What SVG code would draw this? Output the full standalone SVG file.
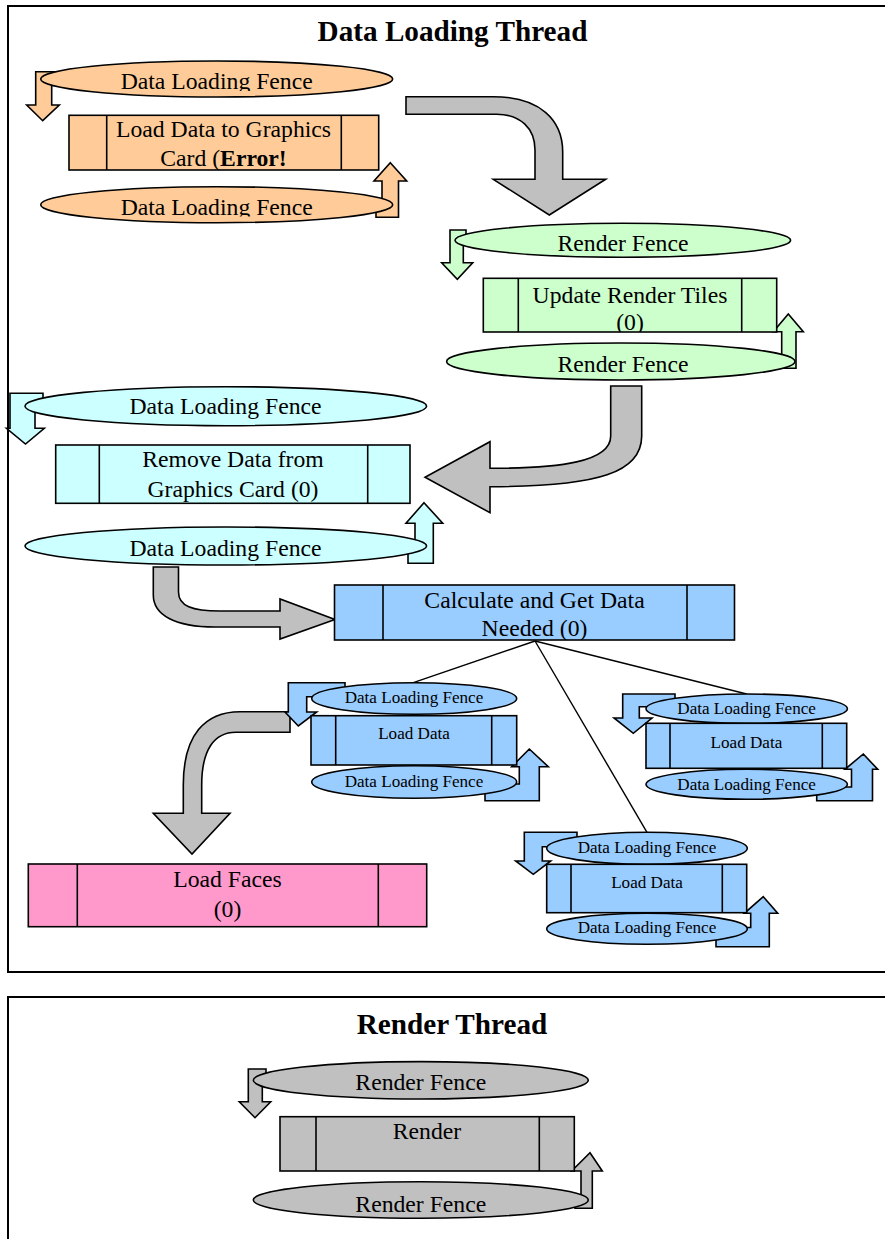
<svg xmlns="http://www.w3.org/2000/svg" width="885" height="1239" viewBox="0 0 885 1239">
  <defs>
    <style>
      .s { stroke: #000; stroke-width: 1.6; stroke-linejoin: miter; }
      .orange { fill: #FFCC99; }
      .green { fill: #CCFFCC; }
      .cyan { fill: #CCFFFF; }
      .blue { fill: #99CCFF; }
      .pink { fill: #FF99CC; }
      .grey { fill: #C0C0C0; }
      .frame { fill: none; stroke: #000; stroke-width: 2; }
      .link { fill: none; stroke: #000; stroke-width: 1.4; }
      .sep { fill: none; stroke: #000; stroke-width: 1.6; }
      text { font-family: "Liberation Serif", "Times New Roman", serif; fill: #000; text-anchor: middle; }
      .t { font-size: 23.7px; }
      .sm { font-size: 17.1px; }
      .h { font-size: 29.2px; font-weight: bold; }
    </style>
    <clipPath id="clipFenceTop"><rect x="30" y="55" width="380" height="36"/></clipPath>
    <clipPath id="clipFenceBottom"><rect x="30" y="180" width="380" height="36.6"/></clipPath>
    <clipPath id="clipLoadCard"><rect x="69" y="115" width="310" height="55"/></clipPath>
    <clipPath id="clipTiles"><rect x="483" y="278" width="294" height="54"/></clipPath>
    <clipPath id="clipNeeded"><rect x="334" y="585" width="401" height="55"/></clipPath>
  </defs>

  <!-- thread frames -->
  <g id="frames">
    <path class="frame" d="M886,6 H8 V972 H886"/>
    <path class="frame" d="M886,997 H8 V1242"/>
    <text class="h" x="452.5" y="41">Data Loading Thread</text>
    <text class="h" x="452" y="1034">Render Thread</text>
  </g>

  <!-- flow arrows and links between the stages -->
  <g id="connectors">
    <path class="s grey" d="M406,96.7 H493 C540,96.7 562.7,120 562.7,152 V179.3 H605.7 L549.3,215 L493.3,179.3 H535 V150 C535,128 520,114.3 496.7,114.3 H406 Z"/>
    <path class="s grey" d="M610.7,386 H641.7 V436 C641.7,472 600,486.7 490,486.7 V512.7 L425,477.3 L490,441.7 V468.3 C560,468.3 610.7,462 610.7,436 Z"/>
    <path class="s grey" d="M153.3,567 H178.5 V592 C178.5,606 192,611 220,611 H280 V599 L335,619.5 L280,639 V627 H215 C175,627 153.3,615 153.3,595 Z"/>
    <path class="s grey" d="M290,711.7 V732.3 H236 C214,732.3 201.7,750 201.7,785 V813.3 H230 L192,854 L153.3,813.3 H183.3 V785 C183.3,735 205,711.7 240,711.7 Z"/>
    <line class="link" x1="535" y1="641" x2="413.3" y2="682.7"/>
    <line class="link" x1="535" y1="641" x2="746.7" y2="694"/>
    <line class="link" x1="535" y1="641" x2="647" y2="832.3"/>
  </g>

  <!-- load data to graphics card -->
  <g id="load-to-card">
    <path class="s orange" d="M58,71.7 H35.7 V105 H26.7 L42.7,120.7 L59.3,105 H51.7 V84 H58 Z"/>
    <path class="s orange" d="M390.3,162.7 L406.7,181 H398.5 V217.3 H376 V203 H382 V181 H374 Z"/>
    <ellipse class="s orange" cx="216.7" cy="79" rx="176" ry="18"/>
    <rect class="s orange" x="69" y="115.3" width="309.7" height="54.7"/>
    <line class="sep" x1="106.7" y1="115.3" x2="106.7" y2="170"/>
    <line class="sep" x1="341.3" y1="115.3" x2="341.3" y2="170"/>
    <ellipse class="s orange" cx="216.7" cy="204.7" rx="176" ry="18"/>
    <text class="t" x="216.7" y="89.3" clip-path="url(#clipFenceTop)">Data Loading Fence</text>
    <g clip-path="url(#clipLoadCard)">
      <text class="t" x="223.5" y="137.3">Load Data to Graphics</text>
      <text class="t" x="223.5" y="165.7">Card (<tspan font-weight="bold">Error!</tspan></text>
    </g>
    <text class="t" x="216.7" y="215" clip-path="url(#clipFenceBottom)">Data Loading Fence</text>
  </g>

  <!-- update render tiles -->
  <g id="update-tiles">
    <path class="s green" d="M466,230 H450 V262.7 H441.7 L457.3,279.3 L472.7,262.7 H463.3 V243 H466 Z"/>
    <path class="s green" d="M788.3,314 L803.3,331.7 H796 V368.3 H776 V355 H781.7 V331.7 H773.3 Z"/>
    <ellipse class="s green" cx="622.8" cy="240.3" rx="167.8" ry="17"/>
    <rect class="s green" x="483.3" y="278.3" width="293.4" height="53.7"/>
    <line class="sep" x1="518.3" y1="278.3" x2="518.3" y2="332"/>
    <line class="sep" x1="741.7" y1="278.3" x2="741.7" y2="332"/>
    <ellipse class="s green" cx="620.8" cy="361.5" rx="174.2" ry="18.5"/>
    <text class="t" x="623" y="250.7">Render Fence</text>
    <g clip-path="url(#clipTiles)">
      <text class="t" x="630" y="303.3">Update Render Tiles</text>
      <text class="t" x="630" y="330">(0)</text>
    </g>
    <text class="t" x="623" y="371.7">Render Fence</text>
  </g>

  <!-- remove data from graphics card -->
  <g id="remove-from-card">
    <path class="s cyan" d="M43,393.3 H10 V428.3 H6.5 L25.5,444 L44.3,428.3 H35 V411 H43 Z"/>
    <path class="s cyan" d="M424,502.7 L442.7,523.3 H433.3 V563.3 H408 V548 H415 V523.3 H406 Z"/>
    <ellipse class="s cyan" cx="225.8" cy="406.2" rx="200.8" ry="19.5"/>
    <rect class="s cyan" x="55.7" y="445" width="354.3" height="58.3"/>
    <line class="sep" x1="99.3" y1="445" x2="99.3" y2="503.3"/>
    <line class="sep" x1="367.7" y1="445" x2="367.7" y2="503.3"/>
    <ellipse class="s cyan" cx="225.8" cy="546" rx="200.8" ry="19"/>
    <text class="t" x="225.5" y="414.3">Data Loading Fence</text>
    <text class="t" x="233" y="467.3">Remove Data from</text>
    <text class="t" x="233" y="496.7">Graphics Card (0)</text>
    <text class="t" x="225.5" y="555.7">Data Loading Fence</text>
  </g>

  <!-- calculate and get data needed -->
  <g id="calculate">
    <rect class="s blue" x="334.5" y="585" width="400" height="55"/>
    <line class="sep" x1="383" y1="585" x2="383" y2="640"/>
    <line class="sep" x1="687" y1="585" x2="687" y2="640"/>
    <g clip-path="url(#clipNeeded)">
      <text class="t" x="534.5" y="608.3">Calculate and Get Data</text>
      <text class="t" x="534.5" y="636">Needed (0)</text>
    </g>
  </g>

  <!-- load data, first batch -->
  <g id="load-data-a">
    <path class="s blue" d="M345,682.7 H288.3 V712 H285 L298.3,726 L316.7,712 H306.7 V696.7 H345 Z"/>
    <path class="s blue" d="M529.3,749 L548.3,766.7 H539.3 V800.7 H485 V784 H519.3 V766.7 H511.7 Z"/>
    <ellipse class="s blue" cx="414.2" cy="698.5" rx="102.5" ry="15.8"/>
    <rect class="s blue" x="311" y="715.7" width="205.7" height="49.3"/>
    <line class="sep" x1="335.7" y1="715.7" x2="335.7" y2="765"/>
    <line class="sep" x1="491.7" y1="715.7" x2="491.7" y2="765"/>
    <ellipse class="s blue" cx="414.2" cy="782" rx="102.5" ry="16.3"/>
    <text class="sm" x="414" y="703.3">Data Loading Fence</text>
    <text class="sm" x="414" y="739.3">Load Data</text>
    <text class="sm" x="414" y="787.3">Data Loading Fence</text>
  </g>

  <!-- load data, second batch -->
  <g id="load-data-b">
    <path class="s blue" d="M675,694 H622.7 V718 H614 L633.3,733.3 L652,718 H639.3 V706.7 H675 Z"/>
    <path class="s blue" d="M863.3,754 L877.7,769.3 H872.5 V800.7 H816.7 V787 H851.5 V769.3 H845 Z"/>
    <ellipse class="s blue" cx="746.7" cy="708.7" rx="100.7" ry="14.7"/>
    <rect class="s blue" x="646" y="723.3" width="200.7" height="45"/>
    <line class="sep" x1="670" y1="723.3" x2="670" y2="768.3"/>
    <line class="sep" x1="822.3" y1="723.3" x2="822.3" y2="768.3"/>
    <ellipse class="s blue" cx="746.7" cy="784.3" rx="100.7" ry="15"/>
    <text class="sm" x="746.6" y="714.3">Data Loading Fence</text>
    <text class="sm" x="746.4" y="747.7">Load Data</text>
    <text class="sm" x="746.6" y="790">Data Loading Fence</text>
  </g>

  <!-- load data, third batch -->
  <g id="load-data-c">
    <path class="s blue" d="M577,832.3 H524.3 V861 H515.7 L533.3,874.3 L550.7,861 H542.3 V846.7 H577 Z"/>
    <path class="s blue" d="M763.3,896.7 L777.7,913.3 H769.3 V946.7 H716 V927.5 H750.7 V913.3 H744.3 Z"/>
    <ellipse class="s blue" cx="647" cy="848.3" rx="100.3" ry="16"/>
    <rect class="s blue" x="546.7" y="864.3" width="200" height="48.4"/>
    <line class="sep" x1="571" y1="864.3" x2="571" y2="912.7"/>
    <line class="sep" x1="722.3" y1="864.3" x2="722.3" y2="912.7"/>
    <ellipse class="s blue" cx="647" cy="928.8" rx="100.3" ry="15.5"/>
    <text class="sm" x="647" y="853.3">Data Loading Fence</text>
    <text class="sm" x="647" y="887.7">Load Data</text>
    <text class="sm" x="647" y="933.3">Data Loading Fence</text>
  </g>

  <!-- load faces -->
  <g id="load-faces">
    <rect class="s pink" x="28.3" y="864" width="398.4" height="62.7"/>
    <line class="sep" x1="77.3" y1="864" x2="77.3" y2="926.7"/>
    <line class="sep" x1="378.3" y1="864" x2="378.3" y2="926.7"/>
    <text class="t" x="227.5" y="887.3">Load Faces</text>
    <text class="t" x="227.5" y="916.7">(0)</text>
  </g>

  <!-- render -->
  <g id="render">
    <path class="s grey" d="M266,1069 H248.3 V1101.7 H239.3 L255,1117.7 L270.7,1101.7 H262.3 V1083 H266 Z"/>
    <path class="s grey" d="M590,1152.7 L602.3,1171 H592.3 V1208.3 H575 V1198 H581 V1171 H571.7 Z"/>
    <ellipse class="s grey" cx="420.8" cy="1080.3" rx="167.5" ry="18.7"/>
    <rect class="s grey" x="280" y="1116.7" width="294.3" height="54.3"/>
    <line class="sep" x1="316" y1="1116.7" x2="316" y2="1171"/>
    <line class="sep" x1="539.3" y1="1116.7" x2="539.3" y2="1171"/>
    <ellipse class="s grey" cx="420.8" cy="1200" rx="167.5" ry="18.3"/>
    <text class="t" x="420.8" y="1090">Render Fence</text>
    <text class="t" x="427" y="1139">Render</text>
    <text class="t" x="420.8" y="1211.7">Render Fence</text>
  </g>
</svg>
